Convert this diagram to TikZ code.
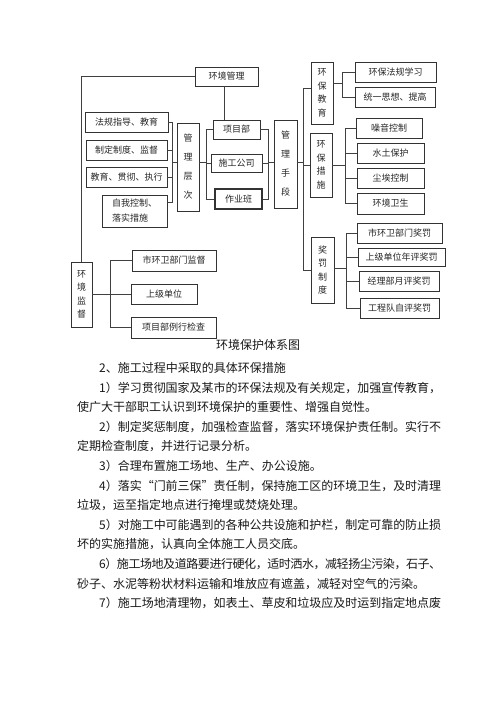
\documentclass[tikz,border=0pt]{standalone}
\usepackage{fontspec}
\setmainfont{Noto Sans CJK SC}
\def\sprdend{sprdend-marker}
\def\sprd#1{\sprdB#1\sprdend}
\def\sprdB#1{#1\sprdC}
\def\sprdC#1{\ifx#1\sprdend\else\hskip0pt plus 1fil minus 0.6pt\relax#1\expandafter\sprdC\fi}
\newcommand\jline[1]{\hbox to 342pt{\sprd{#1}}}
\tikzset{
  box/.style={draw=black!80, line width=0.8pt, inner sep=0pt, text=black!85,
    font=\fontsize{9}{11}\selectfont},
  vbox/.style={box, align=center, font=\fontsize{9}{13.5}\selectfont},
  vboxw/.style={box, align=center, font=\fontsize{9}{19}\selectfont},
  conn/.style={draw=black!75, line width=0.8pt},
  body/.style={anchor=west, inner sep=0pt, text=black!90, font=\fontsize{12}{14}\selectfont}
}
\begin{document}
\begin{tikzpicture}[x=1pt, y=-1pt]
\fill[white] (0,0) rectangle (500,707);
\useasboundingbox (0,0) rectangle (500,707);

% --- boxes ---
\node[box, minimum width=63pt, minimum height=19pt] (hjgl) at (226.5,76.5) {环境管理};
\node[box, minimum width=83pt, minimum height=20pt] (fg) at (126.5,122) {法规指导、教育};
\node[box, minimum width=81pt, minimum height=20pt] (zd) at (126.5,150) {制定制度、监督};
\node[box, minimum width=81pt, minimum height=20pt] (jy) at (126.5,177) {教育、贯彻、执行};
\node[box, minimum width=65pt, minimum height=32pt, align=left, font=\fontsize{9}{15}\selectfont] (zw) at (134.5,211) {自我控制、\\落实措施};
\node[vboxw, minimum width=22pt, minimum height=88pt] (glcc) at (188,167) {管\\理\\层\\次};
\node[box, minimum width=47pt, minimum height=19pt] (xmb) at (236.5,129.5) {项目部};
\node[box, minimum width=51pt, minimum height=18pt] (sg) at (236.5,163) {施工公司};
\node[box, minimum width=47pt, minimum height=20pt, line width=1.1pt] (zyb) at (238.5,199) {作业班};
\node[vboxw, minimum width=23pt, minimum height=88pt] (glsd) at (285.5,164) {管\\理\\手\\段};

\node[vbox, minimum width=22pt, minimum height=62pt] (hbjy) at (322,93) {环\\保\\教\\育};
\node[box, minimum width=81pt, minimum height=20pt] (fgxx) at (395.5,72) {环保法规学习};
\node[box, minimum width=80pt, minimum height=20pt] (tysx) at (395,97) {统一思想、提高};

\node[vbox, minimum width=22pt, minimum height=64pt] (hbcs) at (321,165) {环\\保\\措\\施};
\node[box, minimum width=66pt, minimum height=20pt] (zykz) at (389,128) {噪音控制};
\node[box, minimum width=67pt, minimum height=20pt] (stbh) at (390.5,153) {水土保护};
\node[box, minimum width=67pt, minimum height=20pt] (cakz) at (390.5,178) {尘埃控制};
\node[box, minimum width=67pt, minimum height=21pt] (hjws) at (390.5,203.5) {环境卫生};

\node[vbox, minimum width=23pt, minimum height=66pt] (jfzd) at (322.5,270) {奖\\罚\\制\\度};
\node[box, minimum width=85pt, minimum height=20pt] (sjf) at (399.5,233) {市环卫部门奖罚};
\node[box, minimum width=87pt, minimum height=18pt] (sjnp) at (401.5,257) {上级单位年评奖罚};
\node[box, minimum width=80pt, minimum height=20pt] (jlb) at (399,281) {经理部月评奖罚};
\node[box, minimum width=79pt, minimum height=20pt] (gcd) at (399.5,308) {工程队自评奖罚};

\node[vbox, minimum width=21pt, minimum height=65pt] (hjjd) at (81.5,294.5) {环\\境\\监\\督};
\node[box, minimum width=84pt, minimum height=21pt] (shjd) at (174,260.5) {市环卫部门监督};
\node[box, minimum width=66pt, minimum height=20pt] (sjdw) at (164,294) {上级单位};
\node[box, minimum width=85pt, minimum height=21pt] (xmlx) at (173.5,327.5) {项目部例行检查};

% --- connectors ---
\draw[conn] (hjgl.west) -| (hjjd.north);
\draw[conn] (hjgl.south -| 224,0) -- (xmb.north -| 224,0);

\coordinate (lbt) at (172,122);
\coordinate (lbb) at (172,202);
\coordinate (lbm) at (172,162);
\draw[conn] (fg.east) -- (lbt) -- (lbb) -- (zw.east |- lbb);
\draw[conn] (zd.east) -- (zd.east -| lbt);
\draw[conn] (jy.east) -- (jy.east -| lbt);
\draw[conn] (lbm) -- (lbm -| glcc.west);

\coordinate (mbm) at (206,162);
\draw[conn] (mbm -| glcc.east) -- (mbm);
\draw[conn] (xmb.west) -| (mbm);
\draw[conn] (zyb.west) -| (mbm);
\draw[conn] (sg.west) -- (sg.west -| mbm);

\coordinate (rbm) at (268,162);
\draw[conn] (xmb.east) -| (rbm);
\draw[conn] (zyb.east) -| (rbm);
\draw[conn] (sg.east) -- (sg.east -| rbm);
\draw[conn] (rbm) -- (rbm -| glsd.west);

\coordinate (bt) at (303,162);
\coordinate (bt1) at (303,88);
\draw[conn] (bt -| glsd.east) -- (bt);
\draw[conn] (bt1 -| hbjy.west) -- (bt1) -- (bt1 |- jfzd.west) -- (jfzd.west);
\draw[conn] (hbcs.west) -- (hbcs.west -| bt1);

\coordinate (eb) at (342,83);
\draw[conn] (eb -| hbjy.east) -- (eb);
\draw[conn] (fgxx.west) -| (eb);
\draw[conn] (tysx.west) -| (eb);

\coordinate (cb) at (345,165);
\draw[conn] (hbcs.east) -- (cb);
\draw[conn] (zykz.west) -| (cb);
\draw[conn] (hjws.west) -| (cb);
\draw[conn] (stbh.west) -- (stbh.west -| cb);
\draw[conn] (cakz.west) -- (cakz.west -| cb);

\coordinate (jb) at (346,268);
\draw[conn] (jb -| jfzd.east) -- (jb);
\draw[conn] (sjf.west) -| (jb);
\draw[conn] (gcd.west) -| (jb);
\draw[conn] (sjnp.west) -- (sjnp.west -| jb);
\draw[conn] (jlb.west) -- (jlb.west -| jb);

\coordinate (sb) at (110,294);
\draw[conn] (hjjd.east |- sb) -- (sb);
\draw[conn] (shjd.west) -| (sb);
\draw[conn] (xmlx.west) -| (sb);
\draw[conn] (sjdw.west) -- (sjdw.west -| sb);

% --- caption and body text ---
\node[inner sep=0pt, text=black!90, font=\fontsize{12}{14}\selectfont] (cap) at (258,345) {环境保护体系图};
\node[body] (t0) at (99,368) {2、施工过程中采取的具体环保措施};
\node[body] (t1) at (99,387.6) {\jline{1）学习贯彻国家及某市的环保法规及有关规定，加强宣传教育，}};
\node[body] (t2) at (77,407.2) {使广大干部职工认识到环境保护的重要性、增强自觉性。};
\node[body] (t3) at (99,426.8) {\jline{2）制定奖惩制度，加强检查监督，落实环境保护责任制。实行不}};
\node[body] (t4) at (77,446.4) {定期检查制度，并进行记录分析。};
\node[body] (t5) at (99,466) {3）合理布置施工场地、生产、办公设施。};
\node[body] (t6) at (99,485.6) {\jline{4）落实“门前三保”责任制，保持施工区的环境卫生，及时清理}};
\node[body] (t7) at (77,505.2) {垃圾，运至指定地点进行掩埋或焚烧处理。};
\node[body] (t8) at (99,524.8) {\jline{5）对施工中可能遇到的各种公共设施和护栏，制定可靠的防止损}};
\node[body] (t9) at (77,544.4) {坏的实施措施，认真向全体施工人员交底。};
\node[body] (t10) at (99,564) {\jline{6）施工场地及道路要进行硬化，适时洒水，减轻扬尘污染，石子、}};
\node[body] (t11) at (77,583.6) {砂子、水泥等粉状材料运输和堆放应有遮盖，减轻对空气的污染。};
\node[body] (t12) at (99,603.2) {\jline{7）施工场地清理物，如表土、草皮和垃圾应及时运到指定地点废}};
\end{tikzpicture}
\end{document}
